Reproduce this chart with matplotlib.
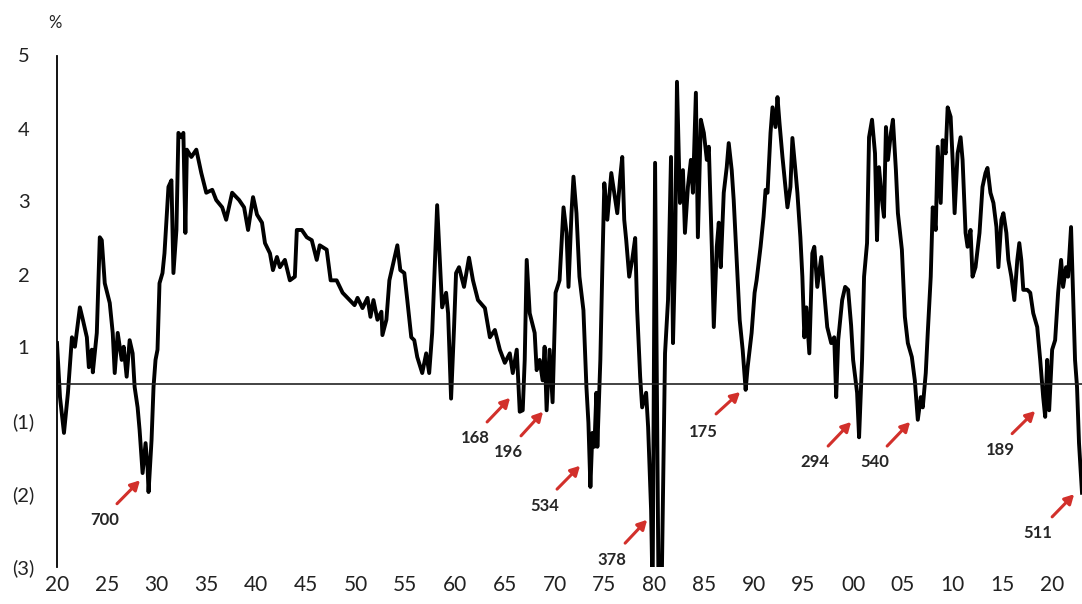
import matplotlib
matplotlib.use("Agg")
import matplotlib.pyplot as plt

plt.rcParams['font.family'] = ['Lato', 'DejaVu Sans']

# spread (zero line = 0, one label step = 1)
years = [
    1920.0, 1920.3, 1920.7, 1921.1, 1921.5, 1921.8, 1922.3, 1922.6, 1923.0, 1923.2,
    1923.5, 1923.6, 1924.0, 1924.3, 1924.5, 1924.8, 1925.3, 1925.6, 1925.8, 1926.1,
    1926.5, 1926.7, 1927.0, 1927.3, 1927.6, 1927.8, 1928.1, 1928.3, 1928.6, 1928.9,
    1929.1, 1929.2, 1929.5, 1929.7, 1929.9, 1930.1, 1930.3, 1930.6, 1930.8, 1931.0,
    1931.2, 1931.5, 1931.7, 1932.0, 1932.2, 1932.5, 1932.7, 1932.9, 1933.05, 1933.5,
    1934.0, 1934.5, 1935.0, 1935.6, 1936.0, 1936.6, 1937.0, 1937.6, 1938.3, 1938.8,
    1939.2, 1939.7, 1940.1, 1940.6, 1940.9, 1941.4, 1941.7, 1942.1, 1942.4, 1942.9,
    1943.4, 1943.9, 1944.1, 1944.6, 1945.1, 1945.6, 1946.1, 1946.4, 1947.1, 1947.5,
    1948.1, 1948.7, 1949.4, 1949.9, 1950.2, 1950.7, 1951.2, 1951.5, 1951.8, 1952.2,
    1952.6, 1952.7, 1953.1, 1953.4, 1953.8, 1954.2, 1954.5, 1954.9, 1955.2, 1955.6,
    1955.9, 1956.2, 1956.7, 1957.1, 1957.4, 1957.7, 1958.2, 1958.7, 1959.1, 1959.3,
    1959.6, 1959.9, 1960.1, 1960.4, 1960.9, 1961.4, 1961.8, 1962.3, 1963.0, 1963.5,
    1964.0, 1964.5, 1965.0, 1965.5, 1965.8, 1966.2, 1966.5, 1966.8, 1967.0, 1967.2,
    1967.5, 1968.0, 1968.2, 1968.5, 1968.8, 1969.0, 1969.2, 1969.5, 1969.8, 1970.1,
    1970.5, 1970.9, 1971.2, 1971.4, 1971.7, 1971.9, 1972.2, 1972.5, 1972.9, 1973.2,
    1973.4, 1973.6, 1973.8, 1974.0, 1974.2, 1974.3, 1974.6, 1974.8, 1975.0, 1975.3,
    1975.7, 1976.0, 1976.3, 1976.6, 1976.8, 1977.0, 1977.2, 1977.5, 1977.8, 1978.1,
    1978.3, 1978.6, 1978.8, 1979.2, 1979.4, 1979.7, 1979.85, 1980.1, 1980.45, 1980.75,
    1981.1, 1981.4, 1981.7, 1981.9, 1982.1, 1982.3, 1982.6, 1982.9, 1983.1, 1983.4,
    1983.7, 1983.9, 1984.2, 1984.4, 1984.7, 1985.0, 1985.3, 1985.5, 1985.8, 1986.0,
    1986.3, 1986.5, 1986.7, 1987.0, 1987.3, 1987.5, 1987.8, 1988.0, 1988.3, 1988.6,
    1988.9, 1989.2, 1989.4, 1989.8, 1990.1, 1990.3, 1990.7, 1991.0, 1991.2, 1991.4,
    1991.7, 1991.9, 1992.2, 1992.4, 1992.6, 1992.9, 1993.2, 1993.4, 1993.7, 1993.9,
    1994.2, 1994.4, 1994.7, 1994.9, 1995.1, 1995.3, 1995.6, 1995.9, 1996.1, 1996.4,
    1996.8, 1997.1, 1997.4, 1997.8, 1998.1, 1998.3, 1998.5, 1998.9, 1999.2, 1999.5,
    1999.8, 2000.0, 2000.4, 2000.6, 2000.9, 2001.1, 2001.4, 2001.6, 2001.9, 2002.2,
    2002.4, 2002.6, 2002.9, 2003.1, 2003.3, 2003.5, 2003.8, 2004.0, 2004.3, 2004.5,
    2004.9, 2005.2, 2005.5, 2005.9, 2006.2, 2006.5, 2006.8, 2007.0, 2007.3, 2007.5,
    2007.8, 2008.0, 2008.3, 2008.5, 2008.8, 2009.0, 2009.3, 2009.5, 2009.8, 2010.0,
    2010.2, 2010.5, 2010.8, 2011.0, 2011.3, 2011.5, 2011.8, 2012.0, 2012.3, 2012.7,
    2013.0, 2013.3, 2013.5, 2013.8, 2014.1, 2014.4, 2014.6, 2014.9, 2015.1, 2015.4,
    2015.6, 2015.9, 2016.2, 2016.5, 2016.7, 2016.9, 2017.1, 2017.5, 2017.8, 2018.1,
    2018.5, 2018.8, 2019.1, 2019.3, 2019.5, 2019.7, 2020.0, 2020.3, 2020.6, 2020.9,
    2021.1, 2021.4, 2021.6, 2021.9, 2022.1, 2022.3, 2022.5, 2022.7, 2023.0,
]
spread = [
    0.56, -0.18, -0.67, -0.12, 0.64, 0.51, 1.05, 0.88, 0.64, 0.23,
    0.47, 0.16, 0.70, 2.01, 1.97, 1.38, 1.11, 0.70, 0.15, 0.70,
    0.33, 0.51, 0.10, 0.60, 0.42, -0.04, -0.32, -0.63, -1.22, -0.81,
    -1.14, -1.48, -0.77, -0.04, 0.33, 0.47, 1.38, 1.52, 1.79, 2.25,
    2.70, 2.79, 1.52, 2.11, 3.44, 3.38, 3.44, 2.07, 3.21, 3.11,
    3.21, 2.89, 2.62, 2.66, 2.52, 2.42, 2.25, 2.62, 2.52, 2.42,
    2.11, 2.56, 2.32, 2.21, 1.93, 1.79, 1.56, 1.74, 1.60, 1.70,
    1.42, 1.47, 2.11, 2.11, 2.01, 1.97, 1.70, 1.90, 1.84, 1.42,
    1.42, 1.25, 1.15, 1.08, 1.18, 1.04, 1.18, 0.92, 1.15, 0.88,
    0.99, 0.67, 0.88, 1.42, 1.66, 1.90, 1.56, 1.52, 1.15, 0.64,
    0.60, 0.37, 0.15, 0.42, 0.15, 0.70, 2.45, 1.05, 1.25, 0.97,
    -0.20, 0.78, 1.52, 1.60, 1.33, 1.73, 1.42, 1.15, 1.04, 0.64,
    0.74, 0.47, 0.29, 0.42, 0.15, 0.47, -0.38, -0.36, 0.33, 1.70,
    0.97, 0.70, 0.19, 0.33, 0.05, 0.51, -0.36, 0.47, -0.25, 1.25,
    1.42, 2.42, 2.07, 1.33, 2.34, 2.84, 2.34, 1.47, 1.01, -0.04,
    -0.53, -1.41, -0.67, -0.86, -0.12, -0.86, 0.33, 1.60, 2.75, 2.25,
    2.89, 2.62, 2.34, 2.84, 3.11, 2.25, 1.97, 1.47, 1.70, 2.00,
    1.01, 0.10, -0.32, -0.12, -0.59, -1.73, -2.90, 3.03, -2.90, -2.90,
    0.42, 1.15, 3.11, 0.56, 1.70, 4.14, 2.48, 2.93, 2.07, 2.70,
    3.07, 2.62, 3.99, 2.01, 3.62, 3.44, 3.07, 3.25, 1.88, 0.78,
    1.88, 2.21, 1.60, 2.62, 2.97, 3.30, 2.93, 2.52, 1.70, 0.88,
    0.47, -0.08, 0.23, 0.70, 1.25, 1.42, 1.88, 2.29, 2.66, 2.62,
    3.44, 3.79, 3.52, 3.93, 3.58, 3.11, 2.70, 2.42, 2.70, 3.37,
    2.93, 2.62, 2.01, 1.47, 0.64, 1.05, 0.42, 1.79, 1.88, 1.33,
    1.74, 1.25, 0.78, 0.56, 0.64, -0.18, 0.60, 1.15, 1.33, 1.29,
    0.80, 0.33, -0.12, -0.73, 0.33, 1.47, 1.93, 3.38, 3.62, 3.16,
    1.97, 2.97, 2.52, 2.29, 3.52, 3.07, 3.44, 3.62, 2.93, 2.34,
    1.84, 0.92, 0.56, 0.37, 0.05, -0.49, -0.18, -0.32, 0.15, 0.70,
    1.47, 2.42, 2.11, 3.25, 2.48, 3.34, 3.16, 3.79, 3.66, 3.07,
    2.34, 3.16, 3.38, 3.07, 2.07, 1.88, 2.11, 1.47, 1.60, 2.07,
    2.70, 2.89, 2.96, 2.62, 2.48, 2.15, 1.60, 2.25, 2.34, 2.07,
    1.70, 1.47, 1.15, 1.70, 1.93, 1.70, 1.29, 1.29, 1.25, 0.97,
    0.78, 0.33, -0.18, -0.45, 0.33, -0.36, 0.47, 0.60, 1.25, 1.70,
    1.33, 1.60, 1.47, 2.15, 1.25, 0.33, -0.04, -0.81, -1.49,
]

# y tick labels sit half a step off the zero line, as in the original
ytick_pos = [4.5, 3.5, 2.5, 1.5, 0.5, -0.5, -1.5, -2.5]
ytick_labels = ['5', '4', '3', '2', '1', '(1)', '(2)', '(3)']
xtick_years = list(range(1920, 2021, 5))
xtick_labels = ['%02d' % (y % 100) for y in xtick_years]

# inversion length labels and where the arrows sit
inv_labels = ['700', '168', '196', '534', '378', '175', '294', '540', '189', '511']
arrow_heads = [(1928.34, -1.32), (1965.53, -0.19), (1968.84, -0.38), (1972.56, -1.12),
               (1979.30, -1.86), (1988.64, -0.11), (1999.80, -0.52), (2005.73, -0.52),
               (2018.29, -0.37), (2022.21, -1.51)]
arrow_tails = [(1926.03, -1.64), (1963.22, -0.52), (1966.63, -0.71), (1970.25, -1.44),
               (1977.09, -2.18), (1986.23, -0.41), (1997.49, -0.85), (2003.42, -0.85),
               (2015.98, -0.68), (2020.00, -1.82)]
text_pos = [(1924.82, -1.86), (1962.01, -0.74), (1965.33, -0.93), (1969.05, -1.67),
            (1975.78, -2.41), (1984.92, -0.66), (1996.18, -1.07), (2002.21, -1.07),
            (2014.77, -0.90), (2018.59, -2.04)]

fig = plt.figure(figsize=(10.82, 6.04), dpi=100)
ax = fig.add_axes([57 / 1082, 37.5 / 604, 1025 / 1082, 511 / 604])

ax.plot(years, spread, color='black', lw=2.8, solid_joinstyle='round')
ax.axhline(0, color='#222222', lw=1.2)

for lab, head, tail, tp in zip(inv_labels, arrow_heads, arrow_tails, text_pos):
    ax.annotate('', xy=head, xytext=tail,
                arrowprops=dict(arrowstyle='-|>,head_length=0.55,head_width=0.3',
                                color='#d2302b', lw=2.2, shrinkA=0, shrinkB=0))
    ax.text(tp[0], tp[1], lab, ha='center', va='center', fontsize=12,
            fontweight='bold', color='#262626')

ax.set_xlim(1920, 2023)
ax.set_ylim(-2.5, 4.5)
ax.set_yticks(ytick_pos)
ax.set_yticklabels(ytick_labels, fontsize=14.5, color='#222222')
for t in ax.get_yticklabels():
    t.set_horizontalalignment('center')
ax.set_xticks(xtick_years)
ax.set_xticklabels(xtick_labels, fontsize=15, color='#222222')
ax.tick_params(axis='y', length=0, pad=24)
ax.tick_params(axis='x', length=0, pad=6)

for s in ['top', 'right', 'bottom']:
    ax.spines[s].set_visible(False)
ax.spines['left'].set_color('black')
ax.spines['left'].set_linewidth(1.3)

fig.text(55 / 1082, 1 - 23 / 604, '%', ha='center', va='center', fontsize=12, color='#222222')

fig.savefig('out.png', dpi=100)
